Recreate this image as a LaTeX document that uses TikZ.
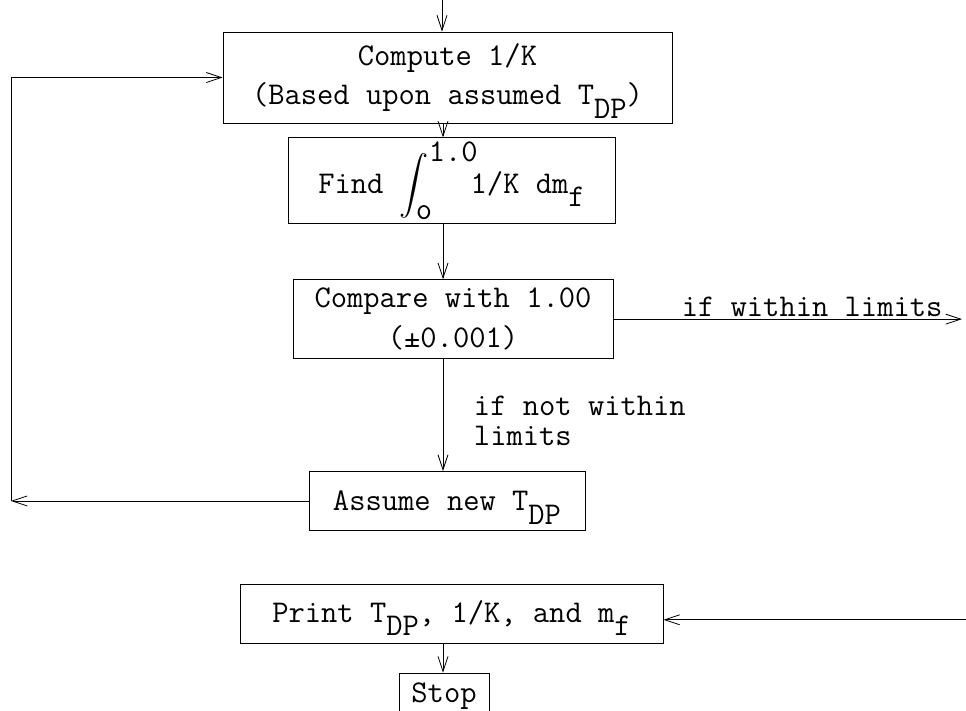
\documentclass[tikz,border=0pt]{standalone}
\usepackage{amsmath, mathtools}
\usetikzlibrary{positioning,arrows.meta}
\newcommand{\typesub}[1]{\raisebox{-0.42em}[0pt][0pt]{#1}}
\tikzstyle{box} = [rectangle, draw=black, line width=0.7pt, text centered, align=center, inner sep=2pt, font=\fontsize{27}{34}\selectfont\ttfamily]
\tikzstyle{lbl} = [font=\fontsize{27}{34}\selectfont\ttfamily]
\tikzstyle{arrow} = [line width=0.7pt, ->, >={Straight Barb[length=4.5mm,width=3mm]}]

\begin{document}
\begin{tikzpicture}
      \clip (0,0) rectangle (28.98,-21.3);
      \coordinate (entry) at (13.26,0);
      \coordinate (spine) at (13.29,0);
      \coordinate (loopx) at (0.33,0);
      \coordinate (exit) at (28.86,0);
      \coordinate (rightedge) at (28.98,0);
      \node (comp)[box, minimum width=13.47cm, minimum height=2.73cm] at (13.425,-2.325) {Compute 1/K\\(Based upon assumed T\typesub{DP})};
      \node (find)[box, minimum width=9.81cm, minimum height=2.58cm, below=0.42cm of comp, xshift=0.12cm] {Find $\displaystyle\int_{\mbox{o}}^{\mathrlap{\mbox{1.0}}}$\ \ \,1/K dm\typesub{f}};
      \node (cmp)[box, minimum width=9.6cm, minimum height=2.37cm, below=1.65cm of find, xshift=0.045cm] {Compare with 1.00\\(±0.001)};
      \node (assume)[box, minimum width=8.28cm, minimum height=1.77cm, below=3.36cm of cmp, xshift=-0.18cm] {Assume new T\typesub{DP}};
      \node (print)[box, minimum width=12.69cm, minimum height=1.77cm, below=1.59cm of assume, xshift=0.135cm] {Print T\typesub{DP}, 1/K, and m\typesub{f}};
      \node (stop)[box, minimum width=2.7cm, minimum height=1.4cm, below=0.87cm of print, xshift=-0.225cm] {Stop};
      \coordinate (printin) at ([yshift=-0.18cm]print.east);
      \draw [arrow](entry)--(entry |- comp.north);
      \draw [arrow](spine |- comp.south)--(spine |- find.north);
      \draw [arrow](spine |- find.south)--(spine |- cmp.north);
      \draw [arrow](cmp.east)--(cmp.east -| exit) node[lbl, pos=0.57, above, inner sep=2pt] {if within limits};
      \draw [arrow](spine |- cmp.south)--(spine |- assume.north) node[lbl, pos=0.55, right, xshift=0.8cm, align=left] {if not within\\[-8pt]limits};
      \draw [arrow](assume.west)--(assume.west -| loopx);
      \draw [arrow](assume.west -| loopx)--(comp.west -| loopx)--(comp.west);
      \draw [arrow](printin -| rightedge)--(printin);
      \draw [arrow](spine |- print.south)--(spine |- stop.north);
    \end{tikzpicture}
\end{document}
